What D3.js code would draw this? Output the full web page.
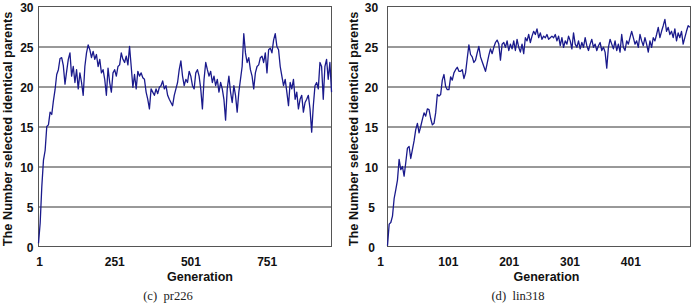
<!DOCTYPE html>
<html><head><meta charset="utf-8">
<script src="https://cdn.jsdelivr.net/npm/d3@7"></script>
<style>body{margin:0;background:#fff}svg{display:block}</style>
</head><body><svg id="c" width="691" height="305"></svg>
<script>
const yTicks = [0, 5, 10, 15, 20, 25, 30];
const leftXTicks = [1, 251, 501, 751];
const rightXTicks = [1, 101, 201, 301, 401];
const yTitle = "The Number selected identical parents";
const xTitle = "Generation";
const captions = ["(c)\u00a0\u00a0pr226", "(d)\u00a0\u00a0lin318"];

// pr226: sampled every ~5.4 generations
const leftGenStep = 5.43;
const leftValues = [
 0.4, 2.9, 7.5, 10.8, 12.0, 15.0, 15.2, 16.8, 16.5, 18.2, 19.6, 21.5, 22.1, 23.5, 23.6, 22.6, 20.3,
 21.9, 23.4, 24.2, 21.3, 22.5, 20.5, 22.1, 19.7, 21.7, 20.5,
 18.9, 22.5, 24.2, 25.2, 24.6, 23.6, 24.4, 23.4, 24.0, 22.5,
 23.4, 21.7, 22.1, 20.9, 18.9, 22.3, 20.5, 19.3, 21.7, 22.1,
 21.3, 22.5, 22.7, 24.2, 23.4, 23.0, 23.8, 22.7, 25.0, 22.5,
 19.9, 21.5, 19.7, 21.9, 21.3, 21.7, 21.1, 20.9, 19.3, 18.4,
 17.2, 19.7, 19.3, 18.9, 19.7, 19.1, 19.9, 20.1, 20.7, 19.7,
 20.1, 18.9, 18.4, 18.0, 17.6, 18.9, 19.7, 20.5, 22.1, 23.2,
 21.3, 20.1, 20.9, 20.5, 21.9, 21.3, 20.1, 19.7, 21.7, 22.1,
 21.3, 19.7, 17.2, 20.9, 23.0, 22.1, 21.3, 21.9, 20.5, 21.3,
 20.1, 20.9, 19.3, 20.5, 19.7, 18.4, 15.8, 19.7, 21.3, 19.3,
 18.0, 20.1, 18.9, 16.8, 19.3, 20.9, 22.5, 26.6, 24.2, 23.0,
 23.6, 22.1, 21.3, 19.7, 21.7, 22.5, 22.7, 23.6, 23.8, 23.0,
 24.2, 21.7, 24.6, 24.8, 24.2, 25.8, 26.6, 25.0, 24.6, 22.5,
 21.3, 20.1, 20.9, 19.3, 17.6, 20.5, 19.7, 20.9, 18.4, 19.3,
 17.2, 18.4, 18.9, 16.8, 18.0, 18.4, 18.9, 17.2, 14.3, 17.6,
 20.1, 20.5, 19.7, 23.0, 22.5, 18.4, 22.5, 23.4, 20.9, 23.0,
 19.3
];

// lin318: sampled every ~2.7 generations
const rightGenStep = 2.73;
const rightValues = [
 0.1, 2.8, 3.0, 3.8, 6.0, 7.1, 8.3, 10.9, 9.6, 10.0,
 8.8, 10.5, 12.3, 12.5, 11.0, 12.1, 13.2, 14.6, 15.4, 14.2,
 15.0, 15.9, 16.7, 16.3, 17.2, 17.1, 16.0, 15.2, 15.4, 16.7,
 19.0, 18.8, 19.0, 20.8, 21.5, 20.0, 19.6, 19.6, 21.2, 20.8,
 21.7, 22.1, 22.4, 21.9, 21.9, 22.1, 21.0, 21.7, 23.5, 25.2,
 24.0, 23.7, 23.0, 23.3, 24.2, 25.0,
 23.7, 23.1, 22.5, 21.9, 22.9, 23.9, 24.7, 24.1, 24.9, 25.5,
 25.8, 25.3, 23.3, 25.3, 25.5, 24.9, 25.7, 24.5, 25.3, 24.7,
 25.7, 24.5, 25.9, 24.9, 24.3, 25.3, 24.1, 26.1, 25.7, 26.5,
 25.5, 26.3, 26.9, 26.5, 27.2, 26.1, 26.7, 25.9, 26.3, 26.1,
 26.5, 25.9, 26.1, 26.3, 26.1, 26.5, 25.7, 26.3, 25.1, 26.1,
 24.9, 25.7, 25.3, 26.3, 25.7, 24.7, 26.7, 25.3, 24.9, 25.7,
 24.7, 25.5, 24.9, 26.1, 25.1, 24.5, 25.3, 25.9, 24.9, 25.3,
 24.5, 25.1, 25.5, 24.5, 24.9, 24.3, 22.3, 24.9, 25.9, 25.3,
 24.7, 25.7, 24.5, 25.3, 24.3, 26.5, 24.9, 24.5, 25.7, 25.3,
 26.1, 26.9, 26.1, 25.3, 25.7, 24.9, 26.5, 25.7, 25.1, 26.1,
 25.3, 24.3, 25.7, 24.9, 26.1, 25.7, 26.5, 27.4, 26.1, 26.9,
 27.6, 28.4, 26.9, 27.4, 26.5, 26.9, 26.1, 27.2, 25.7, 26.7,
 26.1, 26.9, 25.3, 26.1, 26.9, 27.6, 27.4
];

const SANS = "'Liberation Sans', Arial, Helvetica, sans-serif";
const SERIF = "'Liberation Serif', 'Times New Roman', serif";

const panels = [
  { values: leftValues, step: leftGenStep, domain: [1, 962], xr: [38, 331], ticks: leftXTicks,
    caption: captions[0], capX: 168, titleX: 11.5, yLabelMode: "end", yLabelX: 33.5, firstDx: 1, xTitleX: 200 },
  { values: rightValues, step: rightGenStep, domain: [1, 499], xr: [387, 690], ticks: rightXTicks,
    caption: captions[1], capX: 518, titleX: 358, yLabelMode: "middle", yLabelX: 371.5, firstDx: -7, xTitleX: 546.5 }
];

const svg = d3.select("#c");
const yTop = 6, yBot = 246;

panels.forEach(p => {
  const x = d3.scaleLinear().domain(p.domain).range(p.xr);
  const y = d3.scaleLinear().domain([0, 30]).range([yBot, yTop]);
  const g = svg.append("g").attr("transform", "translate(0.5,0.5)");

  // gridlines
  g.append("g")
    .attr("transform", `translate(${p.xr[0]},0)`)
    .call(d3.axisLeft(y).tickValues(yTicks.filter(t => t > 0 && t < 30))
      .tickSize(-(p.xr[1] - p.xr[0])).tickFormat(""))
    .call(s => s.select(".domain").remove())
    .call(s => s.selectAll("line").attr("stroke", "#333").attr("stroke-width", 1));

  // frame
  g.append("rect")
    .attr("x", p.xr[0]).attr("y", yTop)
    .attr("width", p.xr[1] - p.xr[0]).attr("height", yBot - yTop)
    .attr("fill", "none").attr("stroke", "#555").attr("stroke-width", 1);

  // data line
  const line = d3.line()
    .x((d, i) => x(1 + i * p.step))
    .y(d => y(d));
  g.append("path")
    .datum(p.values)
    .attr("d", line)
    .attr("fill", "none")
    .attr("stroke", "#1a1a8c")
    .attr("stroke-width", 1.3)
    .attr("stroke-linejoin", "round");

  // y tick labels
  const ya = svg.append("g")
    .attr("transform", `translate(${p.yLabelX},0)`)
    .call(d3.axisLeft(y).tickValues(yTicks).tickSize(0).tickPadding(0))
    .call(s => s.select(".domain").remove());
  ya.selectAll("text")
    .attr("x", 0)
    .attr("dy", "0.45em")
    .attr("text-anchor", p.yLabelMode)
    .style("font-family", SANS).style("font-size", "12px").style("font-weight", "bold")
    .attr("fill", "#111");

  // x tick labels
  const xa = svg.append("g")
    .attr("transform", `translate(0,${yBot})`)
    .call(d3.axisBottom(x).tickValues(p.ticks).tickFormat(d3.format("d")).tickSize(0).tickPadding(11))
    .call(s => s.select(".domain").remove());
  xa.selectAll("text")
    .style("font-family", SANS).style("font-size", "12px").style("font-weight", "bold")
    .attr("fill", "#111")
    .attr("dx", (d, i) => i === 0 ? p.firstDx : 0);

  // x title
  svg.append("text")
    .attr("x", p.xTitleX)
    .attr("y", 281)
    .attr("text-anchor", "middle")
    .style("font-family", SANS).style("font-size", "12.5px").style("font-weight", "bold")
    .attr("fill", "#111")
    .text(xTitle);

  // y title
  svg.append("text")
    .attr("transform", `translate(${p.titleX},129) rotate(-90)`)
    .attr("text-anchor", "middle")
    .style("font-family", SANS).style("font-size", "12.8px").style("font-weight", "bold")
    .attr("fill", "#111")
    .text(yTitle);

  // caption
  svg.append("text")
    .attr("x", p.capX).attr("y", 300)
    .attr("text-anchor", "middle")
    .style("font-family", SERIF).style("font-size", "12.6px")
    .attr("fill", "#222")
    .text(p.caption);
});
</script></body></html>
